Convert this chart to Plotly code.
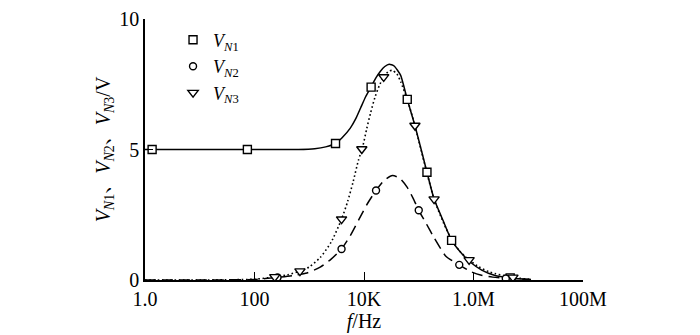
import plotly.graph_objects as go

# Marker data (log10 of frequency in Hz, voltage in V)
n1_logf = [0.13, 1.87, 3.48, 4.13, 4.79, 5.15, 5.6, 6.67]
n1_v = [5.0, 5.0, 5.23, 7.39, 6.92, 4.13, 1.52, 0.08]
n2_logf = [2.42, 3.59, 4.22, 5.0, 5.74, 6.59]
n2_v = [0.1, 1.19, 3.43, 2.67, 0.58, 0.06]
n3_logf = [2.37, 2.83, 3.59, 3.96, 4.36, 4.93, 5.28, 5.92, 6.72]
n3_v = [0.12, 0.34, 2.33, 5.02, 7.78, 5.92, 3.1, 0.77, 0.1]

# Curve data
c1_logf = [0, 1, 2, 2.8, 3.1, 3.3, 3.48, 3.6, 3.75, 3.85, 3.94, 4.03, 4.13, 4.22,
           4.3, 4.38, 4.46, 4.55, 4.67, 4.79, 4.93, 5.05, 5.15, 5.28, 5.45, 5.6,
           5.8, 5.95, 6.15, 6.38, 6.7, 7.05]
c1_v = [5, 5, 5, 5.0, 5.03, 5.1, 5.23, 5.45, 5.82, 6.18, 6.6, 7.02, 7.4, 7.75,
        8.0, 8.18, 8.27, 8.2, 7.84, 6.92, 5.92, 4.95, 4.13, 3.1, 2.25, 1.52,
        0.98, 0.67, 0.38, 0.18, 0.07, 0.02]
c2_logf = [0, 1, 2, 2.42, 2.7, 2.96, 3.2, 3.4, 3.59, 3.75, 3.91, 4.07, 4.22, 4.37,
           4.52, 4.65, 4.79, 4.9, 5.0, 5.14, 5.28, 5.5, 5.74, 5.95, 6.13, 6.35,
           6.59, 7.05]
c2_v = [0, 0, 0.02, 0.1, 0.17, 0.27, 0.49, 0.8, 1.19, 1.7, 2.33, 2.95, 3.43, 3.82,
        4.0, 3.9, 3.55, 3.12, 2.67, 2.15, 1.62, 0.9, 0.58, 0.32, 0.19, 0.11,
        0.06, 0.01]
c3_logf = [0, 1, 2, 2.37, 2.6, 2.83, 3.0, 3.2, 3.4, 3.59, 3.7, 3.8, 3.9, 3.97,
           4.05, 4.12, 4.2, 4.28, 4.36, 4.45, 4.52, 4.6, 4.67, 4.8, 4.93, 5.1,
           5.28, 5.45, 5.6, 5.75, 5.92, 6.1, 6.3, 6.72, 7.05]
c3_v = [0, 0, 0.03, 0.12, 0.2, 0.34, 0.5, 0.86, 1.45, 2.33, 3.0, 3.75, 4.6, 5.05,
        5.8, 6.4, 7.0, 7.45, 7.78, 8.0, 8.03, 7.9, 7.6, 6.85, 5.92, 4.5,
        3.1, 2.2, 1.55, 1.1, 0.77, 0.5, 0.3, 0.1, 0.02]

x_tickvals = [1, 100, 1e4, 1e6, 1e8]
x_ticktext = ["1.0", "100", "10K", "1.0M", "100M"]
y_tickvals = [0, 5, 10]

names = ["<i>V</i><sub><i>N</i>1</sub>", "<i>V</i><sub><i>N</i>2</sub>",
         "<i>V</i><sub><i>N</i>3</sub>"]


def hz(logs):
    return [10 ** v for v in logs]


FONT = "Liberation Serif, Noto Serif CJK SC, Noto Sans CJK SC, serif"

fig = go.Figure()
line_styles = [dict(color="black", width=1.5, dash="solid", shape="spline", smoothing=0.5),
               dict(color="black", width=1.5, dash="11px,6px", shape="spline", smoothing=0.6),
               dict(color="black", width=1.6, dash="1.6px,2.6px", shape="spline", smoothing=0.6)]
for cf, cv, ls in zip([c1_logf, c2_logf, c3_logf], [c1_v, c2_v, c3_v], line_styles):
    fig.add_trace(go.Scatter(x=hz(cf), y=cv, mode="lines", line=ls, showlegend=False,
                             hoverinfo="skip"))

symbols = ["square", "circle", "triangle-down"]
sizes = [8, 7, 9]
for mf, mv, sym, sz, nm in zip([n1_logf, n2_logf, n3_logf], [n1_v, n2_v, n3_v],
                               symbols, sizes, names):
    fig.add_trace(go.Scatter(x=hz(mf), y=mv, mode="markers", name=nm,
                             marker=dict(symbol=sym, size=sz, color="white",
                                         line=dict(color="black", width=1.4))))

fig.update_layout(
    width=700, height=335,
    margin=dict(l=145, r=117, t=8, b=55),
    plot_bgcolor="white", paper_bgcolor="white",
    font=dict(family=FONT, size=20, color="black"),
    showlegend=True,
    legend=dict(x=0.064, y=0.99, xanchor="left", yanchor="top",
                bgcolor="rgba(0,0,0,0)", font=dict(size=18, family=FONT),
                itemwidth=30, tracegroupgap=0),
    xaxis=dict(type="log", range=[0, 8], tickvals=x_tickvals, ticktext=x_ticktext,
               ticks="inside", ticklen=8, tickcolor="black", showline=True,
               linecolor="black", linewidth=1.5, showgrid=False, zeroline=False,
               tickfont=dict(size=20, family=FONT), ticklabeloverflow="allow",
               title=dict(text="<i>f</i>/Hz", font=dict(size=20, family=FONT), standoff=2)),
    yaxis=dict(range=[0, 10], tickvals=y_tickvals, ticks="inside", ticklen=8,
               tickcolor="black", showline=True, linecolor="black", linewidth=1.5,
               showgrid=False, zeroline=False, tickfont=dict(size=20, family=FONT),
               ticklabeloverflow="allow",
               title=dict(text="<i>V</i><sub><i>N</i>1</sub>、<i>V</i><sub><i>N</i>2</sub>、<i>V</i><sub><i>N</i>3</sub>/V",
                          font=dict(size=20, family=FONT), standoff=3)),
)

fig.write_html("out.html", config={"displayModeBar": False},
               post_script="document.body.style.margin='0px';")
